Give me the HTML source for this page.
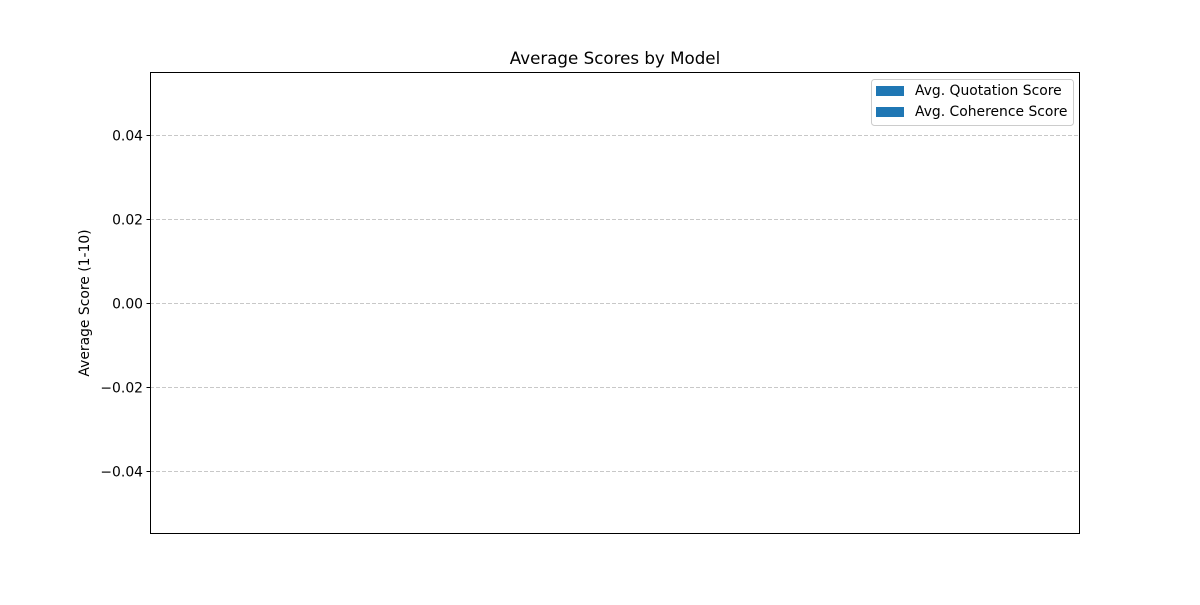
<!DOCTYPE html>
<html><head><meta charset="utf-8"><style>
body{margin:0;background:#fff;}
svg text{font-family:"DejaVu Sans","Liberation Sans",sans-serif;}
</style></head><body>
<svg id="chart" width="1200" height="600" xmlns="http://www.w3.org/2000/svg">
<rect width="1200" height="600" fill="#fff"/>
<text x="615" y="64" font-size="16.7" text-anchor="middle">Average Scores by Model</text>
<g id="grid"></g>
<g id="bars"></g>
<g id="yticks"></g>
<rect x="150.5" y="72.5" width="929" height="461" fill="none" stroke="#000" stroke-width="1"/>
<text transform="translate(89,303) rotate(-90)" font-size="13.9" text-anchor="middle">Average Score (1-10)</text>
<g>
<rect x="871.5" y="79.5" width="202" height="46" rx="3" fill="#fff" fill-opacity="0.8" stroke="#ccc"/>
<rect x="876" y="86" width="28" height="10" fill="#1f77b4"/>
<text x="915" y="95" font-size="13.9">Avg. Quotation Score</text>
<rect x="876" y="107" width="28" height="10" fill="#1f77b4"/>
<text x="915" y="116" font-size="13.9">Avg. Coherence Score</text>
</g>
</svg>
<script>
const categories = [];
const quotationScores = [];
const coherenceScores = [];
const yTickValues = [-0.04, -0.02, 0.00, 0.02, 0.04];
const yTickLabels = ["\u22120.04", "\u22120.02", "0.00", "0.02", "0.04"];
const yDomain = [-0.055, 0.055];

const NS = "http://www.w3.org/2000/svg";
const plot = {x0:150, x1:1080, y0:72, y1:534};
function yScale(v){ return plot.y1 - (v - yDomain[0]) / (yDomain[1] - yDomain[0]) * (plot.y1 - plot.y0); }
function xBand(i){ const w = (plot.x1 - plot.x0) / Math.max(categories.length, 1); return plot.x0 + w * i; }

const grid = document.getElementById('grid');
const yt = document.getElementById('yticks');
yTickValues.forEach((v, i) => {
  const y = Math.round(yScale(v)) + 0.5;
  const g = document.createElementNS(NS, 'line');
  g.setAttribute('x1', plot.x0); g.setAttribute('x2', plot.x1);
  g.setAttribute('y1', y); g.setAttribute('y2', y);
  g.setAttribute('stroke', '#b0b0b0'); g.setAttribute('stroke-opacity', '0.7');
  g.setAttribute('stroke-dasharray', '4,2');
  
  
  grid.appendChild(g);
  const t = document.createElementNS(NS, 'line');
  t.setAttribute('x1', plot.x0 - 3.5); t.setAttribute('x2', plot.x0);
  t.setAttribute('y1', y); t.setAttribute('y2', y);
  t.setAttribute('stroke', '#000');
  
  
  yt.appendChild(t);
  const lbl = document.createElementNS(NS, 'text');
  lbl.setAttribute('x', plot.x0 - 7); lbl.setAttribute('y', y + 5);
  lbl.setAttribute('font-size', '13.9'); lbl.setAttribute('text-anchor', 'end');
  lbl.textContent = yTickLabels[i];
  
  
  yt.appendChild(lbl);
});

const bars = document.getElementById('bars');
const bw = categories.length ? (plot.x1 - plot.x0) / categories.length * 0.35 : 0;
categories.forEach((c, i) => {
  [[quotationScores, 0, '#1f77b4'], [coherenceScores, 1, '#1f77b4']].forEach(([arr, k, col]) => {
    const v = arr[i];
    const r = document.createElementNS(NS, 'rect');
    const cx = xBand(i) + (plot.x1 - plot.x0) / categories.length / 2;
    r.setAttribute('x', cx - bw + k * bw);
    r.setAttribute('width', bw);
    r.setAttribute('y', Math.min(yScale(v), yScale(0)));
    r.setAttribute('height', Math.abs(yScale(v) - yScale(0)));
    r.setAttribute('fill', col);
    
    
    bars.appendChild(r);
  });
});
</script>
</body></html>
